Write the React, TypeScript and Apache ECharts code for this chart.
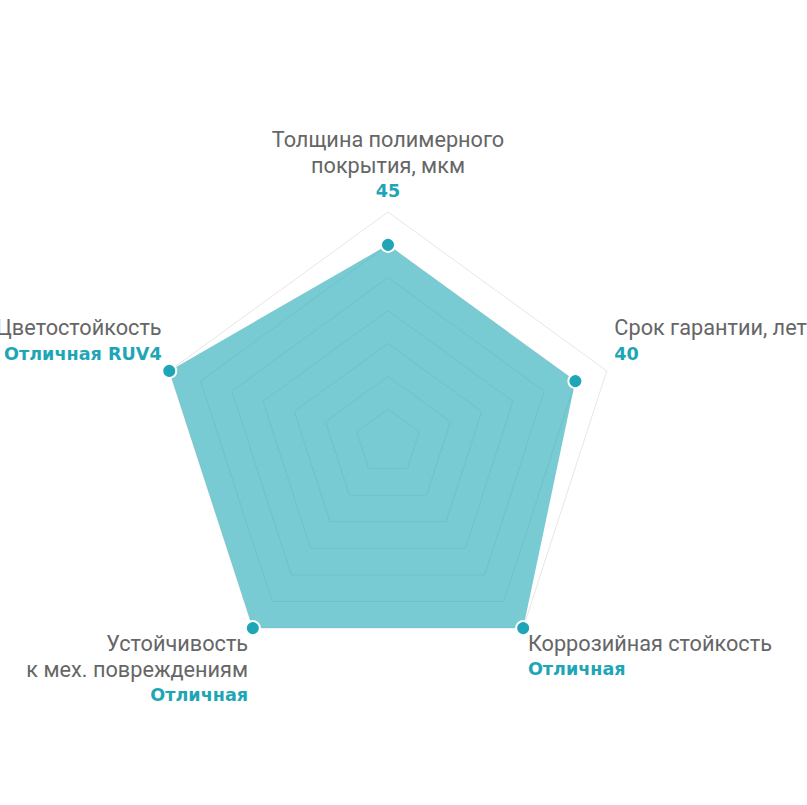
import React, { useEffect, useRef } from "react";
import * as echarts from "echarts";

// Indicators go counter-clockwise from the top
const indicatorNames: string[] = [
  "Толщина полимерного\nпокрытия, мкм",
  "Цветостойкость",
  "Устойчивость\nк мех. повреждениям",
  "Коррозийная стойкость",
  "Срок гарантии, лет",
];
const valueLabels: string[] = ["45", "Отличная RUV4", "Отличная", "Отличная", "40"];
const seriesValues: number[] = [45, 100, 100, 100, 40];
const indicatorMax: number[] = [52.5, 100, 100, 100, 46.7];
// label placement relative to its vertex
const labelSide: string[] = ["top", "upper", "lower", "lower", "upper"];

const TEAL = "#1ea6b6";

export default function App() {
  const ref = useRef<HTMLDivElement>(null);
  useEffect(() => {
    if (!ref.current) return;
    const chart = echarts.init(ref.current, undefined, { renderer: "svg" });
    const LH = 26;
    const rich: Record<string, any> = {
      n: {
        fontFamily: "Roboto",
        fontSize: 21.7,
        color: "#666666",
        lineHeight: LH,
      },
      v: {
        fontFamily: "DejaVu Sans",
        fontWeight: "bold",
        fontSize: 17.6,
        color: TEAL,
        lineHeight: LH,
      },
    };
    for (let k = 1; k <= 4; k++) {
      rich["u" + k] = { fontSize: 10, lineHeight: k * LH + 3 };
      rich["l" + k] = { fontSize: 10, lineHeight: k * LH - 9 };
    }
    const option: any = {
      animation: false,
      backgroundColor: "#ffffff",
      radar: {
        center: [388, 442],
        radius: 230,
        startAngle: 90,
        splitNumber: 7,
        shape: "polygon",
        nameGap: 8,
        indicator: indicatorNames.map((name, i) => ({ name, max: indicatorMax[i], min: 0 })),
        axisName: {
          formatter: (name: string) => {
            const i = indicatorNames.indexOf(name);
            const lines = name.split("\n").map((l) => `{n|${l}}`);
            lines.push(`{v|${valueLabels[i]}}`);
            const count = lines.length;
            if (labelSide[i] === "upper") lines.push(`{u${count}| }`);
            if (labelSide[i] === "lower") lines.unshift(`{l${count}| }`);
            return lines.join("\n");
          },
          rich,
        },
        axisLine: { show: false },
        axisTick: { show: false },
        axisLabel: { show: false },
        splitArea: { show: false },
        splitLine: { lineStyle: { color: "#e6e6e6", width: 1 } },
      },
      series: [
        {
          type: "radar",
          symbol: "circle",
          symbolSize: 14,
          itemStyle: { color: TEAL, borderColor: "#ffffff", borderWidth: 2 },
          lineStyle: { width: 0, opacity: 0 },
          areaStyle: { color: TEAL, opacity: 0.6 },
          data: [{ value: seriesValues }],
        },
      ],
    };
    chart.setOption(option);
    return () => chart.dispose();
  }, []);
  return (
    <div
      ref={ref}
      style={{ position: "fixed", left: 0, top: 0, width: 807, height: 805 }}
    />
  );
}
